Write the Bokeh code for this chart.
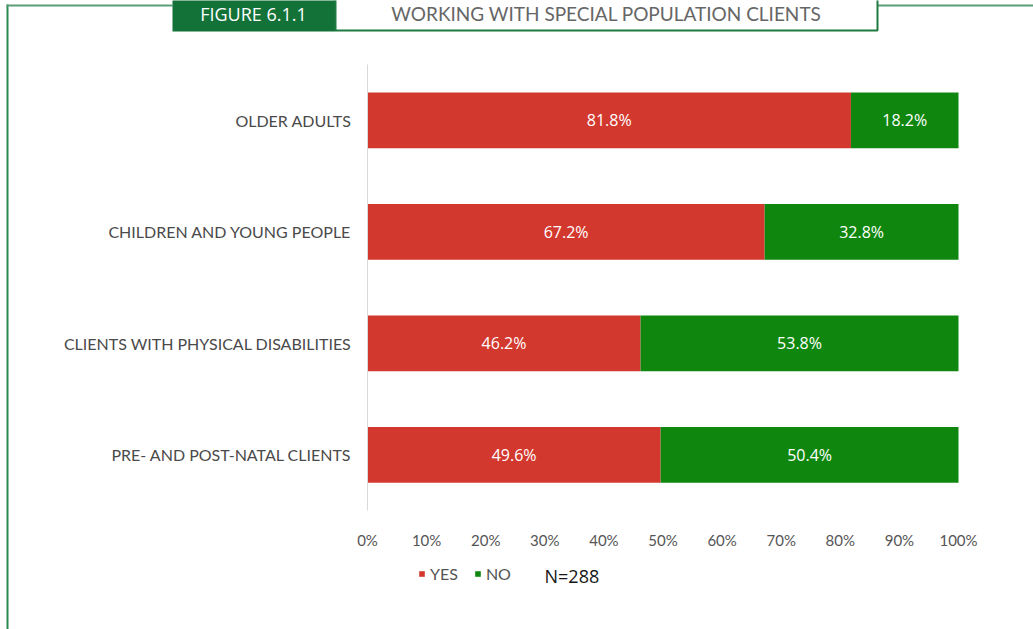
from bokeh.plotting import figure
from bokeh.models import (Range1d, FixedTicker, PrintfTickFormatter, LinearAxis,
                          Legend, LegendItem, Label, BoxAnnotation, ColumnDataSource)
from bokeh.core.properties import value
from bokeh.embed import file_html
from bokeh.resources import INLINE

# ---- data ----
categories = ["OLDER ADULTS", "CHILDREN AND YOUNG PEOPLE",
              "CLIENTS WITH PHYSICAL DISABILITIES", "PRE- AND POST-NATAL CLIENTS"]
yes_pct = [81.8, 67.2, 46.2, 49.6]
no_pct = [18.2, 32.8, 53.8, 50.4]
x_ticks = [0, 10, 20, 30, 40, 50, 60, 70, 80, 90, 100]
legend_labels = ["YES", "NO"]
sample_note = "N=288"
title_tag = "FIGURE 6.1.1"
title_text = "WORKING WITH SPECIAL POPULATION CLIENTS"

RED = "#d3382f"
GREEN = "#0f870f"
DARK_GREEN = "#137238"
LINE_GREEN = "#5a9d78"

# ---- layout (pixels) ----
W, H = 1033, 629
X0_PX, X100_PX = 367, 958          # where 0% and 100% sit
Y_TOP_PX, ROW_PX = 64, 111.5        # top of category axis, height of one row
xs = (X100_PX - X0_PX) / 100.0


def dx(px):  # pixel -> data x
    return (px - X0_PX) / xs


def dy(py):  # pixel -> data y (rows counted downward)
    return (py - Y_TOP_PX) / ROW_PX


n = len(categories)
p = figure(width=W, height=H,
           x_range=Range1d(dx(0), dx(W)),
           y_range=Range1d(dy(H), dy(0)),
           x_axis_location=None, y_axis_location=None,
           output_backend="svg", toolbar_location=None,
           min_border=0, min_border_left=0, min_border_right=0,
           min_border_top=0, min_border_bottom=0)
p.grid.visible = False
p.outline_line_color = None

row_pos = [i + 0.5 for i in range(n)]
src = ColumnDataSource(dict(y=row_pos, cat=categories, yes=yes_pct, no=no_pct))
rs = p.hbar_stack(["yes", "no"], y="y", height=0.5, source=src,
                  fill_color=[RED, GREEN], line_color=None)

# value labels
lab_x, lab_y, lab_t = [], [], []
for yy, a, b in zip(row_pos, yes_pct, no_pct):
    lab_x += [a / 2, a + b / 2]
    lab_y += [yy, yy]
    lab_t += [f"{a:.1f}%", f"{b:.1f}%"]
lsrc = ColumnDataSource(dict(x=lab_x, y=lab_y, t=lab_t))
p.text(x="x", y="y", text="t", source=lsrc, text_color="white",
       text_font=value("Open Sans"), text_font_size="16px",
       text_align="center", text_baseline="middle")

# x axis (fixed inside the canvas)
xaxis = LinearAxis(fixed_location=n, bounds=(0, 100))
xaxis.ticker = FixedTicker(ticks=x_ticks)
xaxis.formatter = PrintfTickFormatter(format="%d%%")
xaxis.axis_line_color = None
xaxis.major_tick_line_color = None
xaxis.minor_tick_line_color = None
xaxis.major_tick_in = 0
xaxis.major_tick_out = 0
xaxis.major_label_standoff = 20
xaxis.major_label_text_font = "Lato"
xaxis.major_label_text_font_size = "15px"
xaxis.major_label_text_color = "#555555"
p.add_layout(xaxis, "below")

# y axis (categories)
yaxis = LinearAxis(fixed_location=0, bounds=(0, n))
yaxis.ticker = FixedTicker(ticks=row_pos)
yaxis.major_label_overrides = {pos: c for pos, c in zip(row_pos, categories)}
yaxis.axis_line_color = "#d9d9d9"
yaxis.axis_line_width = 1
yaxis.major_tick_line_color = None
yaxis.minor_tick_line_color = None
yaxis.major_tick_in = 0
yaxis.major_tick_out = 0
yaxis.major_label_standoff = 16
yaxis.major_label_text_font = "Lato"
yaxis.major_label_text_font_size = "16px"
yaxis.major_label_text_color = "#4a4a4a"
p.add_layout(yaxis, "left")

# legend
legend = Legend(items=[LegendItem(label=legend_labels[0], renderers=[rs[0]]),
                       LegendItem(label=legend_labels[1], renderers=[rs[1]])],
                orientation="horizontal", location=(418, 46),
                glyph_width=7, glyph_height=7, label_standoff=5, spacing=16,
                padding=0, margin=0, border_line_color=None,
                background_fill_alpha=0, label_text_font="Lato",
                label_text_font_size="16px", label_text_color="#555555")
p.add_layout(legend)

p.add_layout(Label(x=dx(544), y=dy(575), text=sample_note,
                   text_align="left", text_baseline="middle", text_color="#151515",
                   text_font="Open Sans", text_font_size="18px"))


# frame decorations (in pixel positions converted to data)
def box(l, r, t, b, **kw):
    return BoxAnnotation(left=dx(l), right=dx(r), top=dy(t), bottom=dy(b), **kw)


p.add_layout(box(6, 8, 4, H + 2, fill_color="#2a8a50", fill_alpha=1, line_color=None))
p.add_layout(box(6, 172, 4, 6, fill_color=LINE_GREEN, fill_alpha=1, line_color=None))
p.add_layout(box(877, W + 2, 4, 6, fill_color=LINE_GREEN, fill_alpha=1, line_color=None))
p.add_layout(box(172, 335, -4, 31, fill_color=DARK_GREEN, fill_alpha=1, line_color=None))
p.add_layout(box(335, 877, -4, 30, fill_color="white", fill_alpha=1,
                 line_color="#1e7a40", line_width=2, line_alpha=1))

p.add_layout(Label(x=dx(253), y=dy(13), text=title_tag,
                   text_align="center", text_baseline="alphabetic", text_color="white",
                   text_font="Open Sans", text_font_size="18px"))
p.add_layout(Label(x=dx(606), y=dy(13), text=title_text,
                   text_align="center", text_baseline="alphabetic", text_color="#666666",
                   text_font="Lato", text_font_size="19px"))

open("out.html", "w").write(file_html(p, INLINE))
